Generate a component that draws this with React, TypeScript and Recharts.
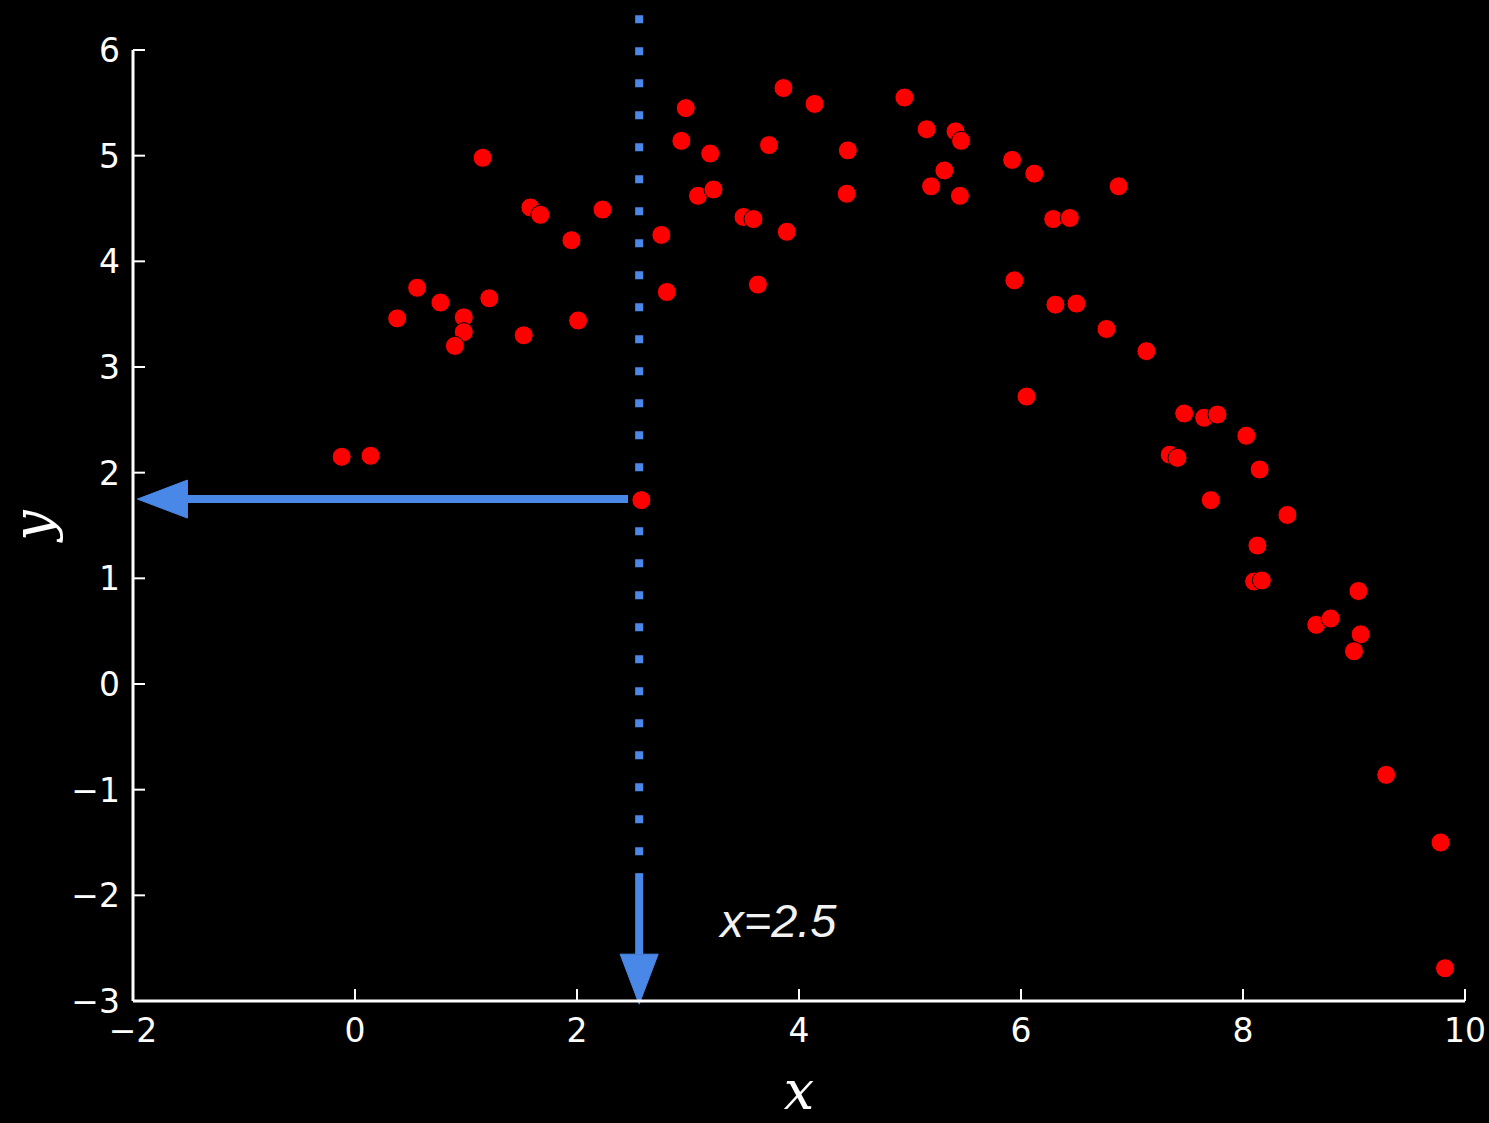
import React from "react";
import {
  ScatterChart,
  Scatter,
  XAxis,
  YAxis,
  ReferenceLine,
  ReferenceDot,
} from "recharts";

const xValues = [
  -0.12, 0.14, 0.38, 0.56, 0.77, 0.98, 0.98, 0.9, 1.15, 1.21, 1.52, 1.58, 1.67,
  1.95, 2.01, 2.23, 2.58, 2.76, 2.81, 2.94, 2.98, 3.09, 3.2, 3.23, 3.5, 3.59,
  3.63, 3.73, 3.86, 3.89, 4.14, 4.43, 4.44, 4.95, 5.15, 5.19, 5.31, 5.41, 5.46,
  5.45, 5.92, 5.94, 6.05, 6.12, 6.29, 6.44, 6.31, 6.5, 6.77, 6.88, 7.13, 7.34,
  7.41, 7.47, 7.65, 7.77, 7.71, 8.03, 8.15, 8.13, 8.1, 8.17, 8.4, 8.66, 8.79,
  9.04, 9.06, 9.0, 9.29, 9.78, 9.82,
];
const yValues = [
  2.15, 2.16, 3.46, 3.75, 3.61, 3.47, 3.33, 3.2, 4.98, 3.65, 3.3, 4.51, 4.44,
  4.2, 3.44, 4.49, 1.74, 4.25, 3.71, 5.14, 5.45, 4.62, 5.02, 4.68, 4.42, 4.4,
  3.78, 5.1, 5.64, 4.28, 5.49, 4.64, 5.05, 5.55, 5.25, 4.71, 4.86, 5.23, 5.14,
  4.62, 4.96, 3.82, 2.72, 4.83, 4.4, 4.41, 3.59, 3.6, 3.36, 4.71, 3.15, 2.17,
  2.14, 2.56, 2.52, 2.55, 1.74, 2.35, 2.03, 1.31, 0.97, 0.98, 1.6, 0.56, 0.62,
  0.88, 0.47, 0.31, -0.86, -1.5, -2.69,
];
const xTicks = [-2, 0, 2, 4, 6, 8, 10];
const yTicks = [-3, -2, -1, 0, 1, 2, 3, 4, 5, 6];

// annotation: dotted marker line, arrows and note
const markerX = 2.56;
const dottedTop = 6.33;
const dottedBottom = -1.62;
const downArrowFrom = -1.79;
const downArrowTo = -3.03;
const leftArrowY = 1.75;
const leftArrowFrom = 2.46;
const leftArrowTo = -1.96;
const noteX = 3.29;
const noteY = -2.39;
const noteText = "x=2.5";

const data = xValues.map((x, i) => ({ x, y: yValues[i] }));

const BLUE = "#4a88e8";
const fmt = (v: number) => String(v).replace("-", "\u2212");

const XTick = (props: any) => {
  const { x, y, payload } = props;
  return (
    <g>
      <line x1={x} y1={y} x2={x} y2={y - 12} stroke="#fff" strokeWidth={2} />
      <text
        x={x}
        y={y + 41}
        textAnchor="middle"
        fill="#fff"
        fontSize={33}
        fontFamily="DejaVu Sans"
      >
        {fmt(payload.value)}
      </text>
    </g>
  );
};

const YTick = (props: any) => {
  const { x, y, payload } = props;
  return (
    <g>
      <line x1={x} y1={y} x2={x + 12} y2={y} stroke="#fff" strokeWidth={2} />
      <text
        x={x - 13}
        y={y + 12}
        textAnchor="end"
        fill="#fff"
        fontSize={33}
        fontFamily="DejaVu Sans"
      >
        {fmt(payload.value)}
      </text>
    </g>
  );
};

const Arrow = (props: any) => {
  const { x1, y1, x2, y2 } = props;
  const dx = x2 - x1;
  const dy = y2 - y1;
  const len = Math.sqrt(dx * dx + dy * dy) || 1;
  const ux = dx / len;
  const uy = dy / len;
  const head = 50;
  const half = 19;
  const bx = x2 - ux * head;
  const by = y2 - uy * head;
  const pts = [
    `${x2},${y2}`,
    `${bx - uy * half},${by + ux * half}`,
    `${bx + uy * half},${by - ux * half}`,
  ].join(" ");
  return (
    <g>
      <line x1={x1} y1={y1} x2={bx} y2={by} stroke={BLUE} strokeWidth={8} />
      <polygon points={pts} fill={BLUE} stroke={BLUE} strokeWidth={1} />
    </g>
  );
};

const Dot = (props: any) => (
  <circle cx={props.cx} cy={props.cy} r={9.5} fill="#ff0000" stroke="#000" strokeWidth={1} />
);

export default function App() {
  return (
    <div style={{ width: 1489, height: 1123, background: "#000" }}>
      <style>{"body{margin:0;background:#000}"}</style>
      <ScatterChart
        width={1489}
        height={1123}
        margin={{ top: 50, right: 24, bottom: 0, left: 0 }}
      >
        <XAxis
          type="number"
          dataKey="x"
          domain={[-2, 10]}
          ticks={xTicks}
          interval={0}
          height={122}
          axisLine={{ stroke: "#fff", strokeWidth: 3 }}
          tickLine={false}
          tickSize={0}
          tickMargin={0}
          tick={XTick}
          label={{
            content: (p: any) => (
              <text
                x={p.viewBox.x + p.viewBox.width / 2}
                y={p.viewBox.y + 108}
                textAnchor="middle"
                fill="#fff"
                fontSize={54}
                fontStyle="italic"
                fontFamily="DejaVu Serif"
              >
                x
              </text>
            ),
          }}
        />
        <YAxis
          type="number"
          dataKey="y"
          domain={[-3, 6]}
          ticks={yTicks}
          interval={0}
          width={133}
          axisLine={{ stroke: "#fff", strokeWidth: 3 }}
          tickLine={false}
          tickSize={0}
          tickMargin={0}
          tick={YTick}
          label={{
            content: (p: any) => {
              const cx = 51;
              const cy = p.viewBox.y + p.viewBox.height / 2;
              return (
                <text
                  x={cx}
                  y={cy}
                  transform={`rotate(-90 ${cx} ${cy})`}
                  textAnchor="middle"
                  fill="#fff"
                  fontSize={54}
                  fontStyle="italic"
                  fontFamily="DejaVu Serif"
                >
                  y
                </text>
              );
            },
          }}
        />
        <Scatter data={data} isAnimationActive={false} shape={Dot} />
        <ReferenceLine
          segment={[
            { x: markerX, y: dottedTop },
            { x: markerX, y: dottedBottom },
          ]}
          stroke={BLUE}
          strokeWidth={8}
          strokeDasharray="8 24"
          ifOverflow="visible"
        />
        <ReferenceLine
          segment={[
            { x: markerX, y: downArrowFrom },
            { x: markerX, y: downArrowTo },
          ]}
          ifOverflow="visible"
          shape={Arrow}
        />
        <ReferenceLine
          segment={[
            { x: leftArrowFrom, y: leftArrowY },
            { x: leftArrowTo, y: leftArrowY },
          ]}
          ifOverflow="visible"
          shape={Arrow}
        />
        <ReferenceDot
          x={noteX}
          y={noteY}
          r={0}
          ifOverflow="visible"
          shape={(p: any) => (
            <text
              x={p.cx}
              y={p.cy}
              fill="#f2f2f2"
              fontSize={47}
              fontStyle="italic"
              fontFamily="Liberation Sans"
            >
              {noteText}
            </text>
          )}
        />
      </ScatterChart>
    </div>
  );
}
